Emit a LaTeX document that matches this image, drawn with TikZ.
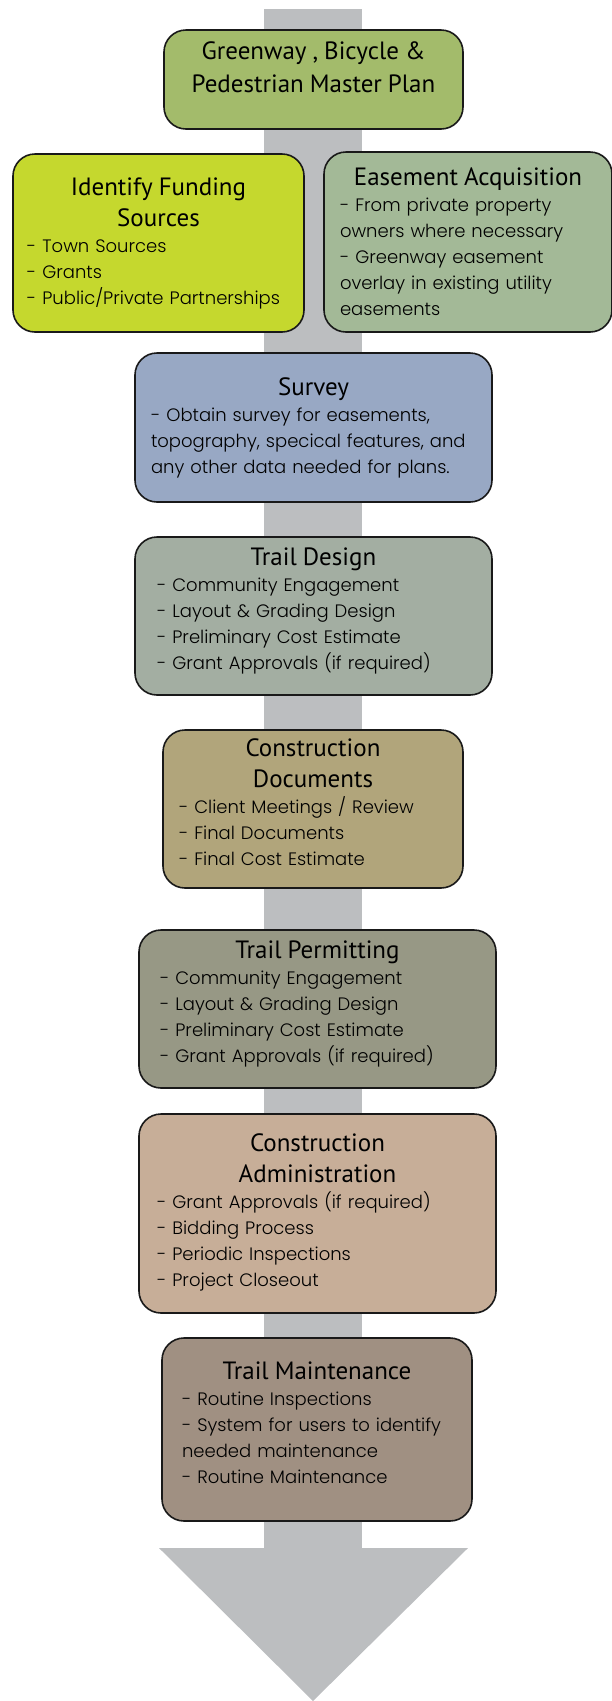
\documentclass[tikz,border=0pt]{standalone}
\usepackage{fontspec}
\IfFontExistsTF{Poppins Light}{\newfontfamily\bodyfont{Poppins Light}}{\newfontfamily\bodyfont{Poppins}}
\newfontfamily\headfont{PT Sans}
\usepackage{xcolor}
\usepackage{tikz}
\usetikzlibrary{positioning}

\definecolor{shaftgray}{HTML}{BCBEC0}
\definecolor{plangreen}{HTML}{A3BB6B}
\definecolor{fundlime}{HTML}{C5D82E}
\definecolor{easesage}{HTML}{A3B997}
\definecolor{surveyblue}{HTML}{98A8C4}
\definecolor{designgray}{HTML}{A3AEA2}
\definecolor{docsolive}{HTML}{B1A57B}
\definecolor{permitgray}{HTML}{979885}
\definecolor{admintan}{HTML}{C7AE98}
\definecolor{maintbrown}{HTML}{A09082}

\newcommand{\stagetitle}[1]{\makebox[\linewidth]{\headfont\fontsize{25}{29}\selectfont #1}}

\begin{document}
\begin{tikzpicture}[
  x=1pt, y=-1pt,
  lift/.style={execute at end node={\rule[-#1]{0pt}{0pt}}},
  stage/.style={draw=black!90,line width=1.6pt,rounded corners=22pt,inner sep=0pt,
    align=left,font=\bodyfont\fontsize{18}{26}\selectfont}
]
\useasboundingbox (0,0) rectangle (611,1701);
% grey flow arrow behind the stages
\fill[shaftgray] (264,9) rectangle (362,1548);
\fill[shaftgray] (159,1548) -- (468,1548) -- (313,1701) -- cycle;

\node[stage,fill=plangreen,minimum width=299pt,minimum height=99pt,text width=270pt,lift=24pt] (plan) at (313.5,79.5)
  {\stagetitle{Greenway , Bicycle \&}\\[7pt] \stagetitle{Pedestrian Master Plan}};
\node[stage,fill=fundlime,minimum width=291pt,minimum height=178pt,text width=263pt] (fund) at (158.5,243)
  {\stagetitle{Identify Funding}\\[5pt] \stagetitle{Sources}\\
   - Town Sources\\ - Grants\\ - Public/Private Partnerships};
\node[stage,fill=easesage,minimum width=288pt,minimum height=180pt,text width=256pt] (ease) at (468,242)
  {\stagetitle{Easement Acquisition}\\
   - From private property\\ owners where necessary\\ - Greenway easement\\
   overlay in existing utility\\ easements};
\node[stage,fill=surveyblue,minimum width=357pt,minimum height=149pt,text width=325pt] (survey) at (313.5,427.5)
  {\stagetitle{Survey}\\
   - Obtain survey for easements,\\ topography, specical features, and\\ any other data needed for plans.};
\node[stage,fill=designgray,minimum width=357pt,minimum height=158pt,text width=313pt,lift=14pt] (design) at (313.5,616)
  {\stagetitle{Trail Design}\\
   - Community Engagement\\ - Layout \& Grading Design\\ - Preliminary Cost Estimate\\ - Grant Approvals (if required)};
\node[stage,fill=docsolive,minimum width=300pt,minimum height=158pt,text width=268pt,lift=14pt] (docs) at (313,809)
  {\stagetitle{Construction}\\[5pt] \stagetitle{Documents}\\
   - Client Meetings / Review\\ - Final Documents\\ - Final Cost Estimate};
\node[stage,fill=permitgray,minimum width=357pt,minimum height=158pt,text width=315pt,lift=14pt] (permit) at (317.5,1009)
  {\stagetitle{Trail Permitting}\\
   - Community Engagement\\ - Layout \& Grading Design\\ - Preliminary Cost Estimate\\ - Grant Approvals (if required)};
\node[stage,fill=admintan,minimum width=357pt,minimum height=199pt,text width=321pt,lift=6pt] (admin) at (317.5,1213.5)
  {\stagetitle{Construction}\\[5pt] \stagetitle{Administration}\\
   - Grant Approvals (if required)\\ - Bidding Process\\ - Periodic Inspections\\ - Project Closeout};
\node[stage,fill=maintbrown,minimum width=310pt,minimum height=183pt,text width=270pt,lift=14pt] (maint) at (317,1429.5)
  {\stagetitle{Trail Maintenance}\\
   - Routine Inspections\\ - System for users to identify\\ needed maintenance\\ - Routine Maintenance};
\end{tikzpicture}
\end{document}
